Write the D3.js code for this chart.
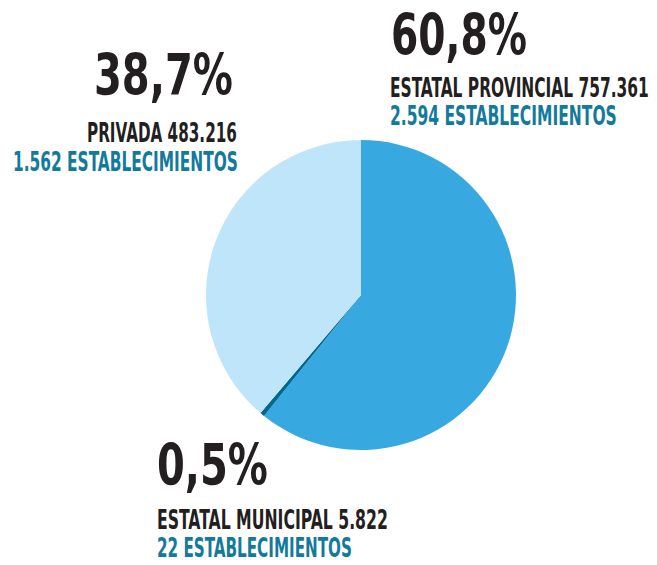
<!DOCTYPE html>
<html>
<head>
<meta charset="utf-8">
<script src="https://cdn.jsdelivr.net/npm/d3@7"></script>
<style>
  body { margin: 0; background: #fff; }
  text { font-family: "DejaVu Sans Condensed", "Liberation Sans", sans-serif; }
</style>
</head>
<body>
<svg id="chart" width="657" height="565"></svg>
<script>
// data
var categories = ["ESTATAL PROVINCIAL", "ESTATAL MUNICIPAL", "PRIVADA"];
var students = [757361, 5822, 483216];
var pctLabels = ["60,8%", "0,5%", "38,7%"];
var studentLabels = ["757.361", "5.822", "483.216"];
var schoolLabels = ["2.594", "22", "1.562"];
var colors = ["#38a9e0", "#00698f", "#bee5f9"];

// label layout: x start, baseline, target width
var layout = [
  {pct: [391, 55, 136], name: [390, 96.7, 259], est: [390, 125, 227]},
  {pct: [157, 485, 111], name: [157, 529.3, 231], est: [157, 556.7, 195]},
  {pct: [94, 95, 139], name: [87, 141.7, 150], est: [13, 170.7, 225]}
];

var cx = 361, cy = 295, r = 155;

var svg = d3.select("#chart");
var g = svg.append("g").attr("transform", `translate(${cx}, ${cy})`);

var pie = d3.pie().sort(null).value(d => d);
var arc = d3.arc().innerRadius(0).outerRadius(r);

g.selectAll("path")
  .data(pie(students))
  .join("path")
  .attr("d", arc)
  .attr("fill", (d, i) => colors[i]);

// squeeze a text horizontally so it spans the target width
function fit(sel, pos) {
  sel.each(function(d, i) {
    var p = pos(i);
    var t = d3.select(this);
    var nat = this.getComputedTextLength();
    t.attr("transform", `translate(${p[0]}, ${p[1]}) scale(${p[2] / nat}, 1)`);
  });
}

var labels = svg.selectAll(".lbl")
  .data(categories)
  .join("g")
  .attr("class", "lbl");

labels.append("text")
  .attr("font-size", 57)
  .attr("font-weight", "bold")
  .attr("fill", "#231f20")
  .text((d, i) => pctLabels[i])
  .call(fit, i => layout[i].pct);

labels.append("text")
  .attr("font-size", 26)
  .attr("font-weight", "bold")
  .attr("fill", "#231f20")
  .text((d, i) => d + " " + studentLabels[i])
  .call(fit, i => layout[i].name);

labels.append("text")
  .attr("font-size", 26)
  .attr("font-weight", "bold")
  .attr("fill", "#137a9c")
  .text((d, i) => schoolLabels[i] + " ESTABLECIMIENTOS")
  .call(fit, i => layout[i].est);
</script>
</body>
</html>
